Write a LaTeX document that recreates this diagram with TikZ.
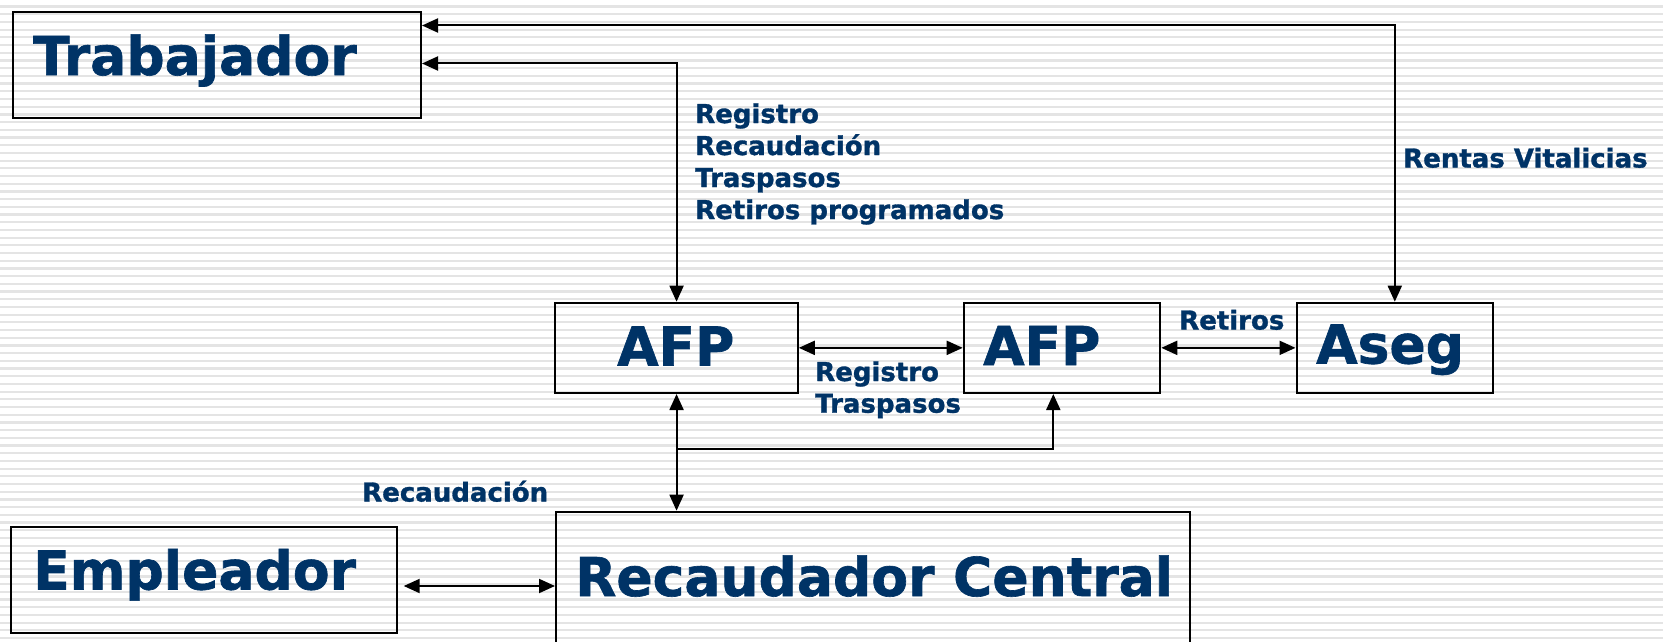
\documentclass[tikz,border=0pt]{standalone}
\usepackage{fontspec}
\setmainfont{DejaVu Sans}[BoldFeatures={FakeBold=1.2}]
\usetikzlibrary{arrows.meta}
\definecolor{navy}{RGB}{0,51,102}
\definecolor{stripecol}{RGB}{228,228,228}
\tikzset{
  boxnode/.style={draw=black, line width=2pt, inner sep=0pt, anchor=north west},
  bigtxt/.style={text=navy, font=\fontsize{53.5}{60}\selectfont\bfseries, anchor=base west, inner sep=0pt},
  smalltxt/.style={text=navy, font=\fontsize{26}{32}\selectfont\bfseries, anchor=base west, inner sep=0pt},
  link/.style={draw=black, line width=2pt},
  tip/.tip={Triangle[length=16pt,width=14pt]},
  stripeline/.style={draw=stripecol, line width=2.2pt}
}
\begin{document}
\begin{tikzpicture}[x=1pt,y=-1pt]
\useasboundingbox (0,0) rectangle (1663,642);
\fill[white] (0,0) rectangle (1663,642);
\foreach \i in {0,...,83} {\draw[stripeline] (0,6.6+7.7*\i) -- (1663,6.6+7.7*\i);}

% boxes
\node[boxnode, minimum width=408pt, minimum height=106pt] (trab) at (12,10.7) {};
\node[boxnode, minimum width=242.5pt, minimum height=90.3pt] (afp1) at (554.3,301.7) {};
\node[boxnode, minimum width=196.6pt, minimum height=90.3pt] (afp2) at (962.7,301.7) {};
\node[boxnode, minimum width=196.6pt, minimum height=90.3pt] (aseg) at (1295.5,301.7) {};
\node[boxnode, minimum width=385.7pt, minimum height=106pt] (empl) at (10.3,525.7) {};
\node[boxnode, minimum width=634.3pt, minimum height=136pt] (recaud) at (555,510.7) {};

% box texts
\node[bigtxt] (ttrab) at (33,75) {Trabajador};
\node[bigtxt] (tafp1) at (617,365.5) {AFP};
\node[bigtxt] (tafp2) at (983,365) {AFP};
\node[bigtxt] (taseg) at (1316,363.5) {Aseg};
\node[bigtxt] (templ) at (33,589.5) {Empleador};
\node[bigtxt] (trec) at (575,596) {Recaudador Central};

% labels
\node[smalltxt] (l1) at (695,123) {Registro};
\node[smalltxt] (l2) at (695,155) {Recaudación};
\node[smalltxt] (l3) at (695,187) {Traspasos};
\node[smalltxt] (l4) at (695,219) {Retiros programados};
\node[smalltxt] (l5) at (1403,167.5) {Rentas Vitalicias};
\node[smalltxt] (l6) at (1179,329.5) {Retiros};
\node[smalltxt] (l7) at (815,381) {Registro};
\node[smalltxt] (l8) at (815,412.7) {Traspasos};
\node[smalltxt] (l9) at (362,501.5) {Recaudación};

% connector corners
\coordinate (c1) at (aseg.north |- 0,25.5);
\coordinate (c2) at (afp1.north |- 0,63.5);
\coordinate (br1) at (afp1.south |- 0,449.3);
\coordinate (br2) at (1053.3,449.3);
\coordinate (e1) at (403.7,586);

% connectors
\draw[link, tip-tip] (trab.east |- c1) -- (c1) -- (aseg.north);
\draw[link, tip-tip] (trab.east |- c2) -- (c2) -- (afp1.north);
\draw[link, tip-tip] (afp1.east) -- (afp2.west);
\draw[link, tip-tip] (afp2.east) -- (aseg.west);
\draw[link, tip-tip] (afp1.south) -- (afp1.south |- recaud.north);
\draw[link, -tip] (br1) -- (br2) -- (br2 |- afp2.south);
\draw[link, tip-tip] (e1) -- (e1 -| recaud.west);
\end{tikzpicture}
\end{document}
